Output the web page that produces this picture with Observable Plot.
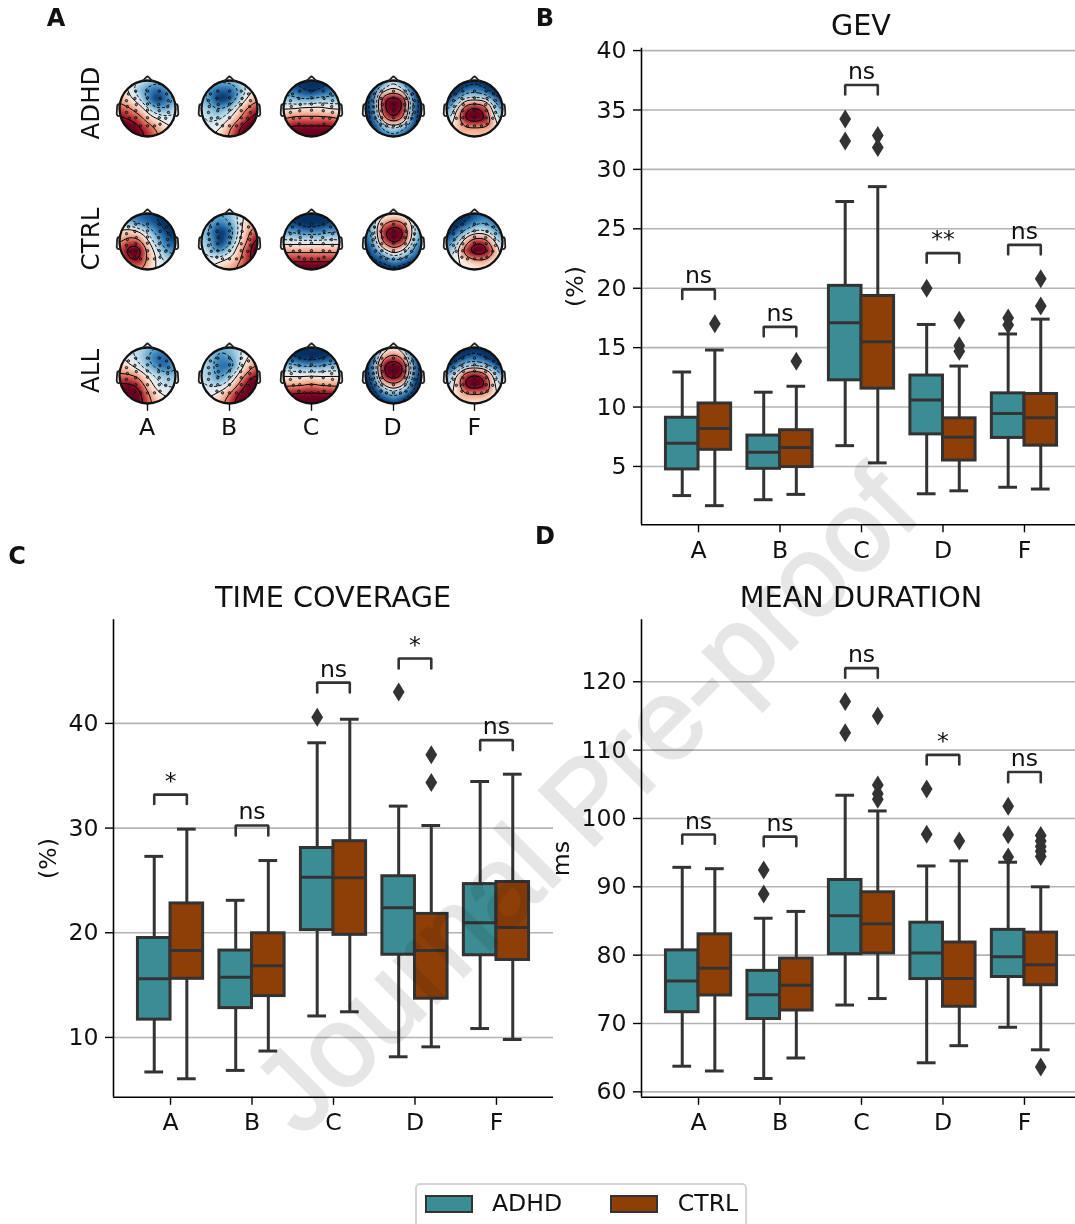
<!DOCTYPE html>
<html><head><meta charset="utf-8">
<script src="https://cdn.jsdelivr.net/npm/d3@7"></script>
<script src="https://cdn.jsdelivr.net/npm/@observablehq/plot@0.6"></script>
<style>
html,body{margin:0;padding:0;background:#fff}
#page{position:relative;width:1075px;height:1224px;overflow:hidden;font-family:"DejaVu Sans",sans-serif;color:#111;background:#fff}
#page svg{position:absolute;background:transparent}
.t{position:absolute;white-space:nowrap;transform:translate(-50%,-50%);line-height:1}
.title{font-size:28.7px}.tick{font-size:23.6px}.letter{font-size:24px;font-weight:bold}
.v{transform:translate(-50%,-50%) rotate(-90deg)}
#legend{position:absolute;left:415px;top:1183px;width:332px;height:60px;border:2px solid #d5d5d5;border-radius:5px;box-sizing:border-box}
.sw{position:absolute;top:10px;width:48px;height:18px;border:2px solid #333;box-sizing:border-box}
#wm{position:absolute;left:585px;top:800px;transform:translate(-50%,-50%) rotate(-45deg);font-family:"Liberation Sans",sans-serif;font-size:114px;color:#e6e6e6;-webkit-text-stroke:2.5px #e6e6e6;white-space:nowrap;pointer-events:none;line-height:1;mix-blend-mode:multiply}
</style></head><body><div id="page"></div>
<script>
const categories = ["A","B","C","D","F"];
const groups = ["ADHD","CTRL"];
const groupColors = ["#3c8d93","#8e3f07"];

// [low whisker, q1, median, q3, high whisker]
const gevADHD  = [[2.55,4.75,6.95,9.1,12.95],[2.2,4.8,6.2,7.6,11.25],[6.75,12.25,17.1,20.2,27.3],[2.7,7.7,10.6,12.65,16.95],[3.25,7.4,9.45,11.15,16.15]];
const gevCTRL  = [[1.7,6.4,8.2,10.3,14.8],[2.65,4.95,6.6,8.05,11.75],[5.3,11.55,15.5,19.35,28.55],[2.95,5.5,7.45,9.05,13.45],[3.1,6.75,9.1,11.1,17.4]];
const gevOutADHD = [[],[],[34.25,32.4],[20],[17.5,16.9]];
const gevOutCTRL = [[17],[13.85],[32.85,31.85],[17.3,15.15,14.7],[20.8,18.5]];
const gevBracketTop = [19.9,16.75,37.1,22.95,23.65];
const gevBracketLow = [19.1,15.95,36.3,22.15,22.85];
const gevSig = ["ns","ns","ns","**","ns"];

const timeADHD = [[6.7,11.7,15.6,19.5,27.3],[6.85,12.8,15.75,18.3,23.1],[12.05,20.25,25.3,28.1,38.15],[8.15,17.9,22.4,25.4,32.1],[10.85,17.85,20.95,24.65,34.45]];
const timeCTRL = [[6.05,15.6,18.3,22.8,29.9],[8.7,13.95,16.85,19.95,26.9],[12.45,19.8,25.25,28.75,40.4],[9.1,13.7,18.3,21.8,30.25],[9.8,17.4,20.5,24.85,35.15]];
const timeOutADHD = [[],[],[40.6],[43],[]];
const timeOutCTRL = [[],[],[],[37,34.35],[]];
const timeBracketTop = [33.2,30.25,43.9,46.2,38.4];
const timeBracketLow = [32.3,29.3,42.95,45.25,37.45];
const timeSig = ["*","ns","ns","*","ns"];

const durADHD = [[63.75,71.65,76.2,80.7,92.85],[61.95,70.65,74.2,77.7,85.4],[72.7,80.15,85.75,91,103.4],[64.25,76.5,80.3,84.75,93.05],[69.45,76.8,79.75,83.7,93.6]];
const durCTRL = [[63.05,74.1,78.1,83.05,92.65],[64.95,71.9,75.6,79.5,86.4],[73.65,80.25,84.6,89.2,101.1],[66.75,72.45,76.6,81.85,93.8],[66.15,75.6,78.6,83.3,90]];
const durOutADHD = [[],[92.45,88.95],[117.1,112.55],[104.3,97.7],[101.8,97.6,94.35]];
const durOutCTRL = [[],[],[115,104.9,103.6,102.8],[96.7],[97.5,96.7,95.9,95.2,94.45,63.65]];
const durBracketTop = [97.65,97.35,122,109.3,106.8];
const durBracketLow = [96.3,95.95,120.6,107.9,105.3];
const durSig = ["ns","ns","ns","*","ns"];

// Topographic maps: values read on a 7x7 grid, top row first
const topoADHD_A=[1,0,-1,-2,-3,-2,-2, 2,0,-3,-5,-6,-5,-3, 3,1,-1,-5,-8,-6,-3, 5,4,2,-1,-4,-4,-2, 7,6,5,2,0,-1,-1, 9,9,7,5,3,1,0, 9,9,8,6,4,2,1];
const topoADHD_B=[-2,-3,-3,-3,-2,0,1, -3,-5,-6,-6,-4,-1,1, -3,-5,-8,-7,-3,1,3, -2,-3,-4,-3,1,4,6, -1,-2,-2,0,3,6,8, -1,-1,0,3,6,9,9, 0,0,2,4,7,9,9];
const topoADHD_C=[-6,-7,-8,-8,-8,-7,-6, -5,-6,-7,-8,-7,-6,-5, -3,-3,-4,-4,-3,-3,-3, 0,0,1,1,1,0,0, 3,4,4,4,4,4,3, 6,7,7,7,7,7,6, 8,9,9,9,9,9,8];
const topoADHD_D=[-8,-8,-5,-2,-5,-8,-8, -9,-6,-1,1,-1,-6,-9, -9,-4,7,9,7,-4,-9, -9,-4,7,9,7,-4,-9, -9,-5,4,7,4,-5,-9, -9,-7,-3,-1,-3,-7,-9, -9,-8,-6,-5,-6,-8,-9];
const topoADHD_F=[-9,-9,-9,-8,-9,-9,-9, -9,-9,-6,-5,-6,-9,-9, -8,-4,-1,-1,-1,-4,-8, -5,-1,6,8,6,-1,-5, -3,1,8,9,8,1,-3, -1,2,3,3,3,2,-1, 0,2,2,2,2,2,0];
const topoCTRL_A=[-3,-5,-6,-7,-7,-7,-7, -2,-3,-5,-6,-7,-8,-8, 1,2,1,-2,-5,-7,-8, 3,5,5,1,-3,-6,-7, 4,8,9,3,-1,-4,-5, 3,6,7,3,0,-2,-3, 2,3,3,2,0,-1,-1];
const topoCTRL_B=[-2,-3,-4,-3,-1,1,2, -2,-4,-5,-4,-1,2,3, -2,-5,-8,-6,-1,3,5, -2,-4,-8,-5,0,4,8, -1,-3,-5,-2,2,6,9, 0,-1,0,1,3,6,8, 1,1,2,3,4,6,7];
const topoCTRL_C=[-7,-8,-8,-9,-8,-8,-7, -6,-7,-8,-9,-8,-7,-6, -4,-4,-5,-5,-5,-4,-4, -1,-1,-1,-1,-1,-1,-1, 3,3,3,3,3,3,3, 6,6,6,6,6,6,6, 8,9,9,9,9,9,8];
const topoCTRL_D=[-4,-3,-1,0,-1,-2,-4, -5,-2,3,5,4,0,-4, -6,-2,7,9,8,0,-5, -7,-3,5,8,6,-1,-6, -8,-5,-1,2,0,-4,-7, -9,-7,-6,-4,-5,-7,-8, -9,-9,-9,-8,-9,-9,-9];
const topoCTRL_F=[-9,-9,-8,-7,-6,-7,-8, -9,-9,-7,-5,-4,-5,-7, -8,-6,-3,-1,-1,-3,-5, -6,-3,2,6,6,1,-3, -4,-1,6,9,9,4,-2, -2,0,1,3,3,1,-1, -1,0,0,0,1,0,0];
const topoALL_A=[0,-1,-2,-3,-4,-3,-3, 1,-1,-2,-4,-6,-6,-4, 2,1,-1,-3,-5,-6,-4, 4,4,3,0,-2,-3,-3, 7,7,6,2,-1,-2,-2, 9,9,8,4,1,0,0, 9,9,8,5,2,1,0];
const topoALL_B=[-1,-2,-3,-3,-2,0,1, -2,-3,-5,-4,-2,0,2, -2,-3,-6,-6,-2,2,4, -2,-3,-5,-3,1,5,7, -1,-2,-2,0,4,8,9, 0,0,1,4,7,9,9, 1,1,3,5,8,9,9];
const topoALL_C=[-7,-8,-8,-9,-8,-7,-6, -6,-7,-8,-9,-8,-7,-6, -3,-3,-4,-4,-4,-3,-3, 0,0,0,0,0,0,0, 3,3,3,4,3,3,3, 6,7,7,7,7,7,6, 8,9,9,9,9,9,8];
const topoALL_D=[-8,-6,-2,0,-2,-6,-8, -9,-5,3,5,3,-5,-8, -9,-3,8,9,8,-3,-9, -9,-4,7,9,7,-4,-9, -9,-6,1,3,1,-6,-9, -9,-8,-5,-3,-5,-8,-9, -9,-9,-8,-7,-8,-9,-9];
const topoALL_F=[-9,-9,-9,-8,-9,-9,-9, -9,-9,-7,-6,-7,-9,-9, -8,-5,-2,-2,-2,-5,-8, -4,0,6,8,6,0,-4, -3,1,8,9,8,1,-3, -1,1,3,3,3,1,-1, 0,1,1,1,1,1,0];
const topoRows = ["ADHD","CTRL","ALL"];
const topoMaps = [[topoADHD_A,topoADHD_B,topoADHD_C,topoADHD_D,topoADHD_F],[topoCTRL_A,topoCTRL_B,topoCTRL_C,topoCTRL_D,topoCTRL_F],[topoALL_A,topoALL_B,topoALL_C,topoALL_D,topoALL_F]];
const gridAxis = [-1,-2/3,-1/3,0,1/3,2/3,1];
const sensors = [[-.42,.62],[0,.62],[.42,.62],[-.68,.52],[.68,.52],[-.45,.36],[0,.38],[.45,.36],[-.75,.28],[.75,.28],[-.4,.14],[0,.16],[.4,.14],[-.72,.07],[.72,.07],[-.42,-.08],[0,-.06],[.42,-.08],[-.75,-.14],[.75,-.14],[-.42,-.33],[0,-.33],[.42,-.33],[-.65,-.35],[.65,-.35],[-.25,-.62],[0,-.62],[.25,-.62],[-.45,-.56],[.45,-.56]];
const earOutline = [[1.0,.11],[1.03,.155],[1.06,.15],[1.08,.11],[1.09,-.01],[1.1,-.19],[1.07,-.26],[1.03,-.275],[.98,-.24]];
const noseOutline = [[-.18,.98],[-.04,1.12],[0,1.15],[.04,1.12],[.18,.98]];

const page = document.getElementById("page");
function add(el,left,top){el.style.left=left+"px";el.style.top=top+"px";page.appendChild(el);}
function label(text,cls,x,y){const d=document.createElement("div");d.className="t "+cls;d.textContent=text;d.style.left=x+"px";d.style.top=y+"px";page.appendChild(d);return d;}

const thinDiamond = {draw(c,size){const h=Math.sqrt(size/Math.PI);const w=h*.62;c.moveTo(0,-h);c.lineTo(w,0);c.lineTo(0,h);c.lineTo(-w,0);c.closePath();}};

function table(vals,g){const off=g===0?-.2:.2;return vals.map((v,i)=>({i,x:i+off,group:groups[g],lo:v[0],q1:v[1],med:v[2],q3:v[3],hi:v[4]}));}
function outs(vals,g){const off=g===0?-.2:.2;return vals.flatMap((v,i)=>v.map(y=>({x:i+off,y})));}

function panel({adhd,ctrl,outA,outC,top,low,sig,yDomain,yTicks,yLabel,labelOffset,left,topPx,w,h,spineX,rightX,axisTop,axisBottom}){
  const rows=[...table(adhd,0),...table(ctrl,1)];
  const brackets=categories.flatMap((c,i)=>[{i,x:i-.2,y:low[i]},{i,x:i-.2,y:top[i]},{i,x:i+.2,y:top[i]},{i,x:i+.2,y:low[i]}]);
  const sigRows=categories.map((c,i)=>({x:i,y:top[i],s:sig[i]}));
  const svg=Plot.plot({
    width:w,height:h,marginLeft:spineX-left,marginRight:Math.max(0,left+w-rightX),marginTop:axisTop-topPx,marginBottom:topPx+h-axisBottom,
    style:{fontFamily:"DejaVu Sans",fontSize:"23.6px",color:"#111",background:"transparent",overflow:"hidden"},
    x:{domain:[-.7,4.7],range:[spineX-left,rightX-left]},
    y:{domain:yDomain,range:[axisBottom-topPx,axisTop-topPx]},
    color:{domain:groups,range:groupColors},
    marks:[
      Plot.ruleY(yTicks,{stroke:"#b4b4b4",strokeWidth:1.6}),
      Plot.ruleX(rows,{x:"x",y1:"lo",y2:"hi",stroke:"#333",strokeWidth:3}),
      Plot.ruleY(rows,{y:"lo",x1:d=>d.x-.115,x2:d=>d.x+.115,stroke:"#333",strokeWidth:3}),
      Plot.ruleY(rows,{y:"hi",x1:d=>d.x-.115,x2:d=>d.x+.115,stroke:"#333",strokeWidth:3}),
      Plot.rect(rows,{x1:d=>d.x-.2,x2:d=>d.x+.2,y1:"q1",y2:"q3",fill:"group",stroke:"#333",strokeWidth:3}),
      Plot.ruleY(rows,{y:"med",x1:d=>d.x-.2,x2:d=>d.x+.2,stroke:"#333",strokeWidth:3}),
      Plot.dot([...outs(outA,0),...outs(outC,1)],{x:"x",y:"y",r:9.5,symbol:thinDiamond,fill:"#333",stroke:"none"}),
      Plot.line(brackets,{x:"x",y:"y",z:"i",stroke:"#333",strokeWidth:2.6,strokeLinejoin:"miter",curve:"linear"}),
      Plot.text(sigRows,{x:"x",y:"y",text:"s",fontSize:23.6,lineAnchor:"bottom",dy:-6,fill:"#111"}),
      Plot.axisY({ticks:yTicks,tickFormat:d=>String(d),tickSize:8,tickPadding:7,stroke:"#000",strokeWidth:1.4,label:yLabel,labelAnchor:"center",labelOffset,labelArrow:"none"}),
      Plot.axisX({ticks:[0,1,2,3,4],tickFormat:i=>categories[i],tickSize:8,tickPadding:8,stroke:"#000",strokeWidth:1.4,label:null}),
      Plot.ruleX([-.7],{stroke:"#000",strokeWidth:1.6}),
      Plot.ruleY([yDomain[0]],{stroke:"#000",strokeWidth:1.6})
    ]
  });
  add(svg,left,topPx);
}

// Topomaps
topoRows.forEach((rowName,r)=>{
  categories.forEach((cat,c)=>{
    const vals=topoMaps[r][c];
    const samples=vals.map((v,k)=>({x:gridAxis[k%7],y:gridAxis[6-Math.floor(k/7)],v}));
    const base={x:"x",y:"y",x1:-1,x2:1,y1:-1,y2:1,interpolate:"barycentric",pixelSize:1};
    const side=84, half=side/2/28;
    const marks=[
      Plot.raster(samples,{...base,fill:"v",blur:2}),
      Plot.contour(samples,{...base,value:"v",blur:3,thresholds:[-7,-4,-1.5],stroke:"#000",strokeWidth:.9,strokeDasharray:"3,2",fill:"none"}),
      Plot.contour(samples,{...base,value:"v",blur:3,thresholds:[0.3,3.5,6.5],stroke:"#000",strokeWidth:1,fill:"none"}),
      Plot.dot(sensors,{x:d=>d[0],y:d=>d[1],r:1.2,stroke:"#111",strokeWidth:.9,fill:"#444",fillOpacity:.5}),
      Plot.dot([[0,0]],{x:d=>d[0],y:d=>d[1],r:28,stroke:"#111",strokeWidth:2.3,fill:"none"}),
      Plot.line(earOutline,{x:d=>d[0],y:d=>d[1],stroke:"#222",strokeWidth:1.8}),
      Plot.line(earOutline,{x:d=>-d[0],y:d=>d[1],stroke:"#222",strokeWidth:1.8}),
      Plot.line(noseOutline,{x:d=>d[0],y:d=>d[1],stroke:"#222",strokeWidth:1.8})
    ];
    if(r===2) marks.push(Plot.ruleX([0],{y1:-1,y2:-1.28,stroke:"#111",strokeWidth:1.4}));
    const svg=Plot.plot({width:side,height:side,margin:0,axis:null,
      style:{background:"transparent"},
      x:{domain:[-half,half],range:[0,side]},
      y:{domain:[-half,half],range:[side,0]},
      color:{scheme:"RdBu",reverse:true,domain:[-7.5,7.5]},
      marks});
    // clip the field and its contours to the head circle
    const id=`head${r}${c}`;
    const sel=d3.select(svg);
    sel.append("defs").append("clipPath").attr("id",id).append("circle").attr("cx",side/2).attr("cy",side/2).attr("r",28);
    sel.selectAll('g[aria-label="raster"],g[aria-label="contour"]').attr("clip-path",`url(#${id})`);
    add(svg,[147,229,311,392.5,474.3][c]-side/2,[107.5,240.8,375][r]-side/2);
  });
  const rowLabel=label(rowName,"tick v",91,[103,239,371][r]);
  rowLabel.style.fontSize="24.5px";
});
categories.forEach((cat,c)=>label(cat,"tick",[147,229,311,392.5,474.3][c],428));

panel({adhd:gevADHD,ctrl:gevCTRL,outA:gevOutADHD,outC:gevOutCTRL,top:gevBracketTop,low:gevBracketLow,sig:gevSig,
  yDomain:[.09,40.2],yTicks:[5,10,15,20,25,30,35,40],yLabel:"(%)",labelOffset:75,
  left:560,topPx:0,w:515,h:570,spineX:641,rightX:1081,axisTop:47.7,axisBottom:524.3});
panel({adhd:timeADHD,ctrl:timeCTRL,outA:timeOutADHD,outC:timeOutCTRL,top:timeBracketTop,low:timeBracketLow,sig:timeSig,
  yDomain:[4.28,49.9],yTicks:[10,20,30,40],yLabel:"(%)",labelOffset:74,
  left:0,topPx:580,w:560,h:565,spineX:113,rightX:553,axisTop:619.3,axisBottom:1096.8});
panel({adhd:durADHD,ctrl:durCTRL,outA:durOutADHD,outC:durOutCTRL,top:durBracketTop,low:durBracketLow,sig:durSig,
  yDomain:[59.2,129.07],yTicks:[60,70,80,90,100,110,120],yLabel:"ms",labelOffset:89,
  left:535,topPx:580,w:540,h:565,spineX:641,rightX:1081,axisTop:619.3,axisBottom:1096.8});

label("GEV","title",861,25);
label("TIME COVERAGE","title",333,597);
label("MEAN DURATION","title",861,597);
label("A","letter",56,18);
label("B","letter",545,18);
label("C","letter",17,556);
label("D","letter",545,536);

const legend=document.createElement("div");legend.id="legend";page.appendChild(legend);
groups.forEach((g,i)=>{
  const s=document.createElement("div");s.className="sw";s.style.left=[8,193][i]+"px";s.style.background=groupColors[i];legend.appendChild(s);
  const t=document.createElement("div");t.className="t tick";t.textContent=g;t.style.left=[110,291][i]+"px";t.style.top="19px";legend.appendChild(t);
});

const wm=document.createElement("div");wm.id="wm";wm.textContent="Journal Pre-proof";page.appendChild(wm);
</script></body></html>
